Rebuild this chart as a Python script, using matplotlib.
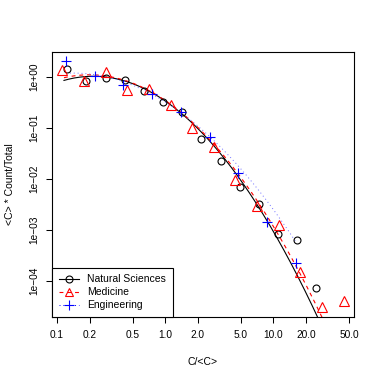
import numpy as np
import matplotlib
matplotlib.use('Agg')
import matplotlib.pyplot as plt
from matplotlib.ticker import NullLocator

plt.rcParams['font.family'] = ['Liberation Sans', 'DejaVu Sans']

# binned points: x = C/<C>, y = <C> * Count/Total
nat_x = [0.124, 0.187, 0.281, 0.422, 0.635, 0.955, 1.44, 2.16, 3.25, 4.88, 7.35, 11.1, 16.6, 25.0]
nat_y = [1.44, 0.835, 0.97, 0.86, 0.54, 0.32, 0.204, 0.060, 0.0225, 0.0069, 0.00322, 0.00083, 0.00063, 7.3e-5]
med_x = [0.112, 0.178, 0.281, 0.446, 0.707, 1.12, 1.78, 2.81, 4.46, 7.07, 11.2, 17.8, 28.1, 44.6]
med_y = [1.39, 0.835, 1.24, 0.56, 0.58, 0.28, 0.101, 0.0418, 0.0096, 0.00296, 0.00126, 1.52e-4, 3.1e-5, 4.07e-5]
eng_x = [0.121, 0.223, 0.411, 0.757, 1.40, 2.57, 4.74, 8.74, 16.1]
eng_y = [2.09, 1.03, 0.70, 0.46, 0.209, 0.0657, 0.0133, 0.00146, 2.22e-4]

# lognormal fits: log10(y) = a + b*log10(x) + c*log10(x)^2, and x range
nat_fit = (-0.47, -1.46, -1.10)
med_fit = (-0.46, -1.44, -1.03)
eng_fit = (-0.49, -1.33, -0.78)
nat_range = (0.116, 30)
med_range = (0.116, 50)
eng_range = (0.121, 16.1)

xticks = [0.1, 0.2, 0.5, 1, 2, 5, 10, 20, 50]
xlabels = ['0.1', '0.2', '0.5', '1.0', '2.0', '5.0', '10.0', '20.0', '50.0']
yticks = [1, 1e-1, 1e-2, 1e-3, 1e-4]
ylabels = ['1e+00', '1e\u221201', '1e\u221202', '1e\u221203', '1e\u221204']


def fit_curve(fit, rng):
    u = np.linspace(np.log10(rng[0]), np.log10(rng[1]), 300)
    a, b, c = fit
    return 10 ** u, 10 ** (a + b * u + c * u ** 2)


fig = plt.figure(figsize=(3.82, 3.82), dpi=100)
ax = fig.add_axes([52 / 382, 65 / 382, 302 / 382, 265 / 382])
ax.set_xscale('log')
ax.set_yscale('log')

fx, fy = fit_curve(nat_fit, nat_range)
ax.plot(fx, fy, color='black', lw=0.8)
fx, fy = fit_curve(med_fit, med_range)
ax.plot(fx, fy, color='red', lw=0.8, linestyle=(0, (3.5, 3.5)))
fx, fy = fit_curve(eng_fit, eng_range)
ax.plot(fx, fy, color='#6f6fff', lw=0.7, linestyle=(0, (1, 3)))

ax.plot(nat_x, nat_y, 'o', mfc='none', mec='black', ms=5, mew=0.8)
ax.plot(med_x, med_y, '^', mfc='none', mec='red', ms=6.5, mew=0.8)
ax.plot(eng_x, eng_y, '+', color='blue', ms=7.5, mew=0.8)

# legend handles
h1, = ax.plot([], [], color='black', lw=0.8, marker='o', mfc='none', ms=5, mew=0.8)
h2, = ax.plot([], [], color='red', lw=0.8, linestyle=(0, (3.5, 3.5)), marker='^', mfc='none', ms=5.5, mew=0.8)
h3, = ax.plot([], [], color='blue', lw=0.7, linestyle=(0, (1, 3)), marker='+', ms=7, mew=0.8)
leg = ax.legend([h1, h2, h3], ['Natural Sciences', 'Medicine', 'Engineering'],
                loc='lower left', bbox_to_anchor=(0, 0), borderaxespad=0,
                fontsize=7.5, handlelength=1.9, handletextpad=0.8,
                labelspacing=0.28, borderpad=0.65, fancybox=False,
                framealpha=1, edgecolor='black', numpoints=1)
leg.get_frame().set_linewidth(0.8)

ax.set_xlim(0.0899, 55.6)
ax.set_ylim(10 ** -4.706, 10 ** 0.49)
ax.set_xticks(xticks)
ax.set_xticklabels(xlabels)
ax.set_yticks(yticks)
ax.set_yticklabels(ylabels, rotation=90, va='center')
ax.xaxis.set_minor_locator(NullLocator())
ax.yaxis.set_minor_locator(NullLocator())
ax.tick_params(direction='out', length=4.3, width=0.75, labelsize=7.3, pad=5)
for s in ax.spines.values():
    s.set_linewidth(0.8)

fig.text(10 / 382, 1 - 184.5 / 382, '<C> * Count/Total', rotation=90,
         ha='center', va='center', fontsize=7.5)
fig.text(203 / 382, 1 - 362 / 382, 'C/<C>', ha='center', va='center', fontsize=7.5)

fig.savefig('out.png', dpi=100)
